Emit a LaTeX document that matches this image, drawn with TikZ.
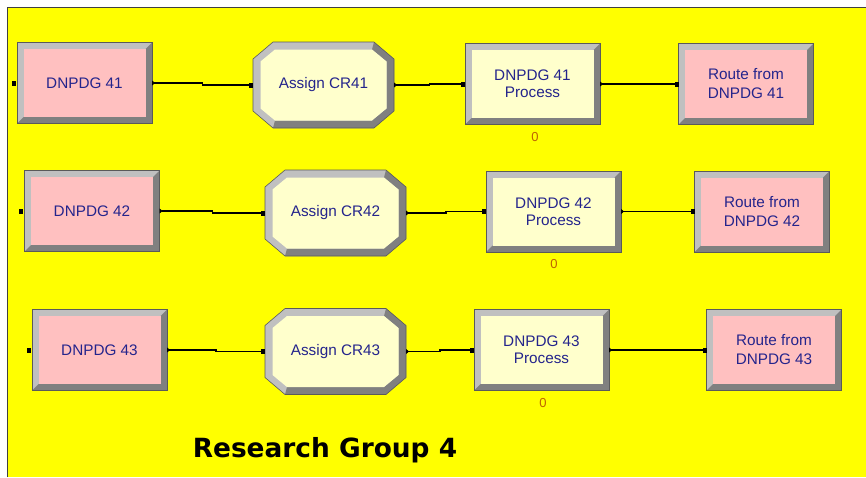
\documentclass[tikz,border=0pt]{standalone}
\usepackage{fontspec}
\setmainfont{Liberation Sans}
\newfontfamily\titlefont{DejaVu Sans}
\usetikzlibrary{backgrounds,calc,arrows.meta}
\definecolor{panel}{RGB}{255,255,0}
\definecolor{pinkface}{RGB}{255,192,192}
\definecolor{creamface}{RGB}{255,255,204}
\definecolor{bevlight}{RGB}{192,192,192}
\definecolor{bevdark}{RGB}{128,128,128}
\definecolor{labelblue}{RGB}{36,36,140}
\definecolor{counter}{RGB}{190,100,0}

\begin{document}
\begin{tikzpicture}
  [x=1pt,y=-1pt,every node/.style={text=labelblue,font=\fontsize{15.3}{17}\selectfont,align=center}]
 \tikzset{modbox/.style={rectangle,minimum width=135pt,minimum height=81pt,inner sep=0pt,outer sep=0pt}}
 \tikzset{routebox/.style={modbox,font=\fontsize{15.3}{19}\selectfont}}
 \tikzset{assignbox/.style={modbox,minimum width=141pt,minimum height=86pt}}
 \tikzset{countlabel/.style={text=counter,font=\fontsize{13}{13}\selectfont,inner sep=0pt}}
 \tikzset{EdgeStyle/.style={line width=1.1pt,{Triangle[reversed,length=3pt,width=5pt]}-{Square[length=4pt,width=5pt]}}}

 \useasboundingbox (0,0) rectangle (866,477);

  \node[modbox] (src41) at (84.5,83) {DNPDG 41};
  \node[assignbox] (asg41) at (323.5,85) {Assign CR41};
  \node[modbox] (prc41) at (532.5,84) {DNPDG 41\\Process};
  \node[routebox] (rte41) at (746,84) {Route from\\DNPDG 41};

  \node[modbox] (src42) at (92,211) {DNPDG 42};
  \node[assignbox] (asg42) at (335.5,213) {Assign CR42};
  \node[modbox] (prc42) at (553.5,211.5) {DNPDG 42\\Process};
  \node[routebox] (rte42) at (762,211.5) {Route from\\DNPDG 42};

  \node[modbox] (src43) at (99.5,350) {DNPDG 43};
  \node[assignbox] (asg43) at (335.5,351.5) {Assign CR43};
  \node[modbox] (prc43) at (541.5,350) {DNPDG 43\\Process};
  \node[routebox] (rte43) at (774,350) {Route from\\DNPDG 43};

  \node[countlabel] (cnt41) at (535,137) {0};
  \node[countlabel] (cnt42) at (554,264) {0};
  \node[countlabel] (cnt43) at (543,403) {0};

 \node[text=black,font=\titlefont\bfseries\fontsize{26.4}{28}\selectfont,anchor=base] (title) at (325,457) {Research Group 4};

 \begin{scope}[on background layer]
  \fill[white] (0,0) rectangle (866,477);
  \fill[panel] (7.5,7.5) rectangle (866,477);
  \draw[line width=1.2pt,black!75] (7.5,477) -- (7.5,7.5) -- (866,7.5);

  \foreach \n/\c in {src41/pinkface,prc41/creamface,rte41/pinkface,src42/pinkface,prc42/creamface,rte42/pinkface,src43/pinkface,prc43/creamface,rte43/pinkface} {
   \fill[bevlight] (\n.north west) rectangle (\n.south east);
   \fill[bevdark] (\n.south west) -- (\n.south east) -- (\n.north east) -- ($(\n.north east)+(-6.5,6.5)$) -- ($(\n.south east)+(-6.5,-6.5)$) -- ($(\n.south west)+(6.5,-6.5)$) -- cycle;
   \fill[\c] ($(\n.north west)+(6.5,6.5)$) rectangle ($(\n.south east)+(-6.5,-6.5)$);
   \draw[bevdark!70!black,line width=0.6pt] (\n.north west) rectangle (\n.south east);
  }

  \foreach \n in {asg41,asg42,asg43} {
   \fill[bevlight] ($(\n.north west)+(20,0)$) -- ($(\n.north east)+(-20,0)$) -- ($(\n.north east)+(0,17)$) -- ($(\n.south east)+(0,-17)$) -- ($(\n.south east)+(-20,0)$) -- ($(\n.south west)+(20,0)$) -- ($(\n.south west)+(0,-17)$) -- ($(\n.north west)+(0,17)$) -- cycle;
   \fill[bevdark] ($(\n.north east)+(-20,0)$) -- ($(\n.north east)+(0,17)$) -- ($(\n.south east)+(0,-17)$) -- ($(\n.south east)+(-20,0)$) -- ($(\n.south west)+(20,0)$) -- ($(\n.south west)+(22,-7.5)$) -- ($(\n.south east)+(-22,-7.5)$) -- ($(\n.south east)+(-7.5,-19.5)$) -- ($(\n.north east)+(-7.5,19.5)$) -- ($(\n.north east)+(-22,7.5)$) -- cycle;
   \fill[creamface] ($(\n.north west)+(22,7.5)$) -- ($(\n.north east)+(-22,7.5)$) -- ($(\n.north east)+(-7.5,19.5)$) -- ($(\n.south east)+(-7.5,-19.5)$) -- ($(\n.south east)+(-22,-7.5)$) -- ($(\n.south west)+(22,-7.5)$) -- ($(\n.south west)+(7.5,-19.5)$) -- ($(\n.north west)+(7.5,19.5)$) -- cycle;
   \draw[bevdark!70!black,line width=0.6pt] ($(\n.north west)+(20,0)$) -- ($(\n.north east)+(-20,0)$) -- ($(\n.north east)+(0,17)$) -- ($(\n.south east)+(0,-17)$) -- ($(\n.south east)+(-20,0)$) -- ($(\n.south west)+(20,0)$) -- ($(\n.south west)+(0,-17)$) -- ($(\n.north west)+(0,17)$) -- cycle;
  }
 \end{scope}

 \foreach \n in {src41,src42,src43}
    \fill[black] ($(\n.west)+(-5.5,-2.5)$) rectangle ++(4,5);

 \foreach \from/\to in {src41/asg41,asg41/prc41,prc41/rte41,src42/asg42,asg42/prc42,prc42/rte42,src43/asg43,asg43/prc43,prc43/rte43}
    \draw[EdgeStyle] (\from.east) -| ($(\from.east)!.5!(\to.west)$) |- (\to.west);

\end{tikzpicture}
\end{document}
